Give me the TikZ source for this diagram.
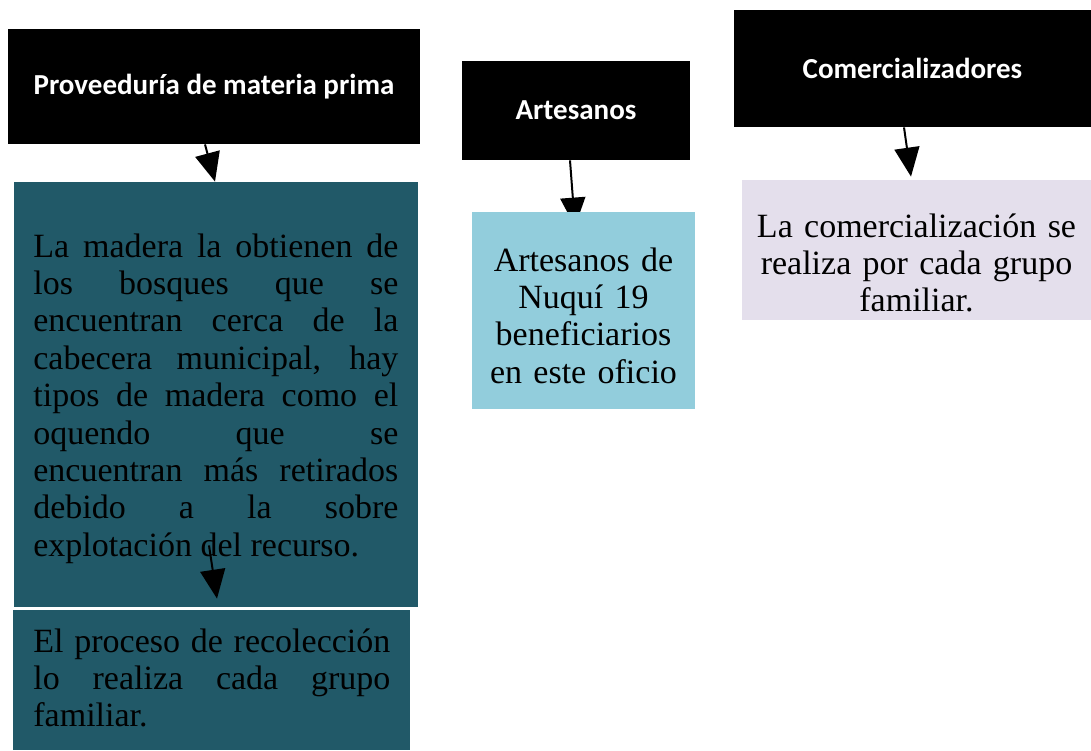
\documentclass[tikz,border=0pt]{standalone}
\usepackage{fontspec}
\setmainfont{Liberation Serif}
\newfontfamily\cabfont{Carlito}
\usetikzlibrary{positioning,arrows.meta}
\definecolor{tealcaja}{HTML}{215968}
\definecolor{azulcaja}{HTML}{92CDDC}
\definecolor{lilacaja}{HTML}{E4DFEC}
\pgfdeclarelayer{fondo}
\pgfsetlayers{fondo,main}

\begin{document}
\begin{tikzpicture}[x=0.5pt,y=-0.5pt,
            flecha/.style={-{Triangle[length=14.5pt,width=12.5pt]}, line width=1pt}]
            % Box styles
            \tikzstyle{cabecera} = [fill=black, text=white, inner sep=0pt, text centered,
                font=\cabfont\bfseries\fontsize{14.5}{17.4}\selectfont]
            \tikzstyle{caja} = [inner sep=0pt]
            \tikzstyle{texto} = [inner sep=0pt, text=black, font=\fontsize{17}{18.7}\selectfont]
            \useasboundingbox (0,0) rectangle (1091,750);

            % Header boxes
            \node (prov) [cabecera, minimum width=206pt, minimum height=57.5pt] at (214,86.5) {Proveeduría de materia prima};
            \node (artes) [cabecera, minimum width=114pt, minimum height=49.5pt] at (576,110.5) {Artesanos};
            \node (comer) [cabecera, minimum width=178.5pt, minimum height=58.5pt] at (912.5,68.5) {Comercializadores};

            % Content boxes
            \node (madera) [caja, fill=tealcaja, minimum width=202pt, minimum height=212.5pt] at (216,394.5) {};
            \node (recol) [caja, fill=tealcaja, minimum width=198.5pt, minimum height=70pt] at (211.5,680) {};
            \node (benef) [caja, fill=azulcaja, minimum width=111.5pt, minimum height=98.5pt] at (583.5,310.5) {};
            \node (venta) [caja, fill=lilacaja, minimum width=174.5pt, minimum height=70pt] at (916.5,250) {};

            % Texts of the boxes
            \node (maderatxt) [texto, anchor=base west, text width=182.5pt, align=justify] at (33,257)
                {La madera la obtienen de\linebreak los bosques que se\linebreak encuentran cerca de la\linebreak
                 cabecera municipal, hay\linebreak tipos de madera como el\linebreak oquendo que se\linebreak
                 encuentran más retirados\linebreak debido a la sobre\linebreak explotación del recurso.};
            \node (recoltxt) [texto, anchor=base west, text width=178.5pt, align=justify] at (33,652)
                {El proceso de recolección\linebreak lo realiza cada grupo\linebreak familiar.};
            \node (beneftxt) [texto, anchor=base, text width=111.5pt, align=center] at (583.5,271)
                {Artesanos de\\Nuquí 19\\beneficiarios\\en este oficio};
            \node (ventatxt) [texto, anchor=base, text width=174.5pt, align=center] at (916.5,237)
                {La comercialización se\\realiza por cada grupo\\familiar.};

            % Draw the arrows
            \draw [flecha] ([xshift=-4.5pt]prov.south) -- ([xshift=-0.5pt]madera.north);
            \begin{pgfonlayer}{fondo}
            \draw [flecha] ([xshift=-3pt]artes.south) -- ([xshift=-4.25pt,yshift=-7.5pt]benef.north);
            \end{pgfonlayer}
            \draw [flecha] ([xshift=-4.25pt]comer.south) -- ([xshift=-2.75pt,yshift=1.5pt]venta.north);
            \draw [flecha] ([xshift=-3.5pt,yshift=31pt]madera.south) -- ([xshift=2.75pt,yshift=5.5pt]recol.north);
\end{tikzpicture}
\end{document}
